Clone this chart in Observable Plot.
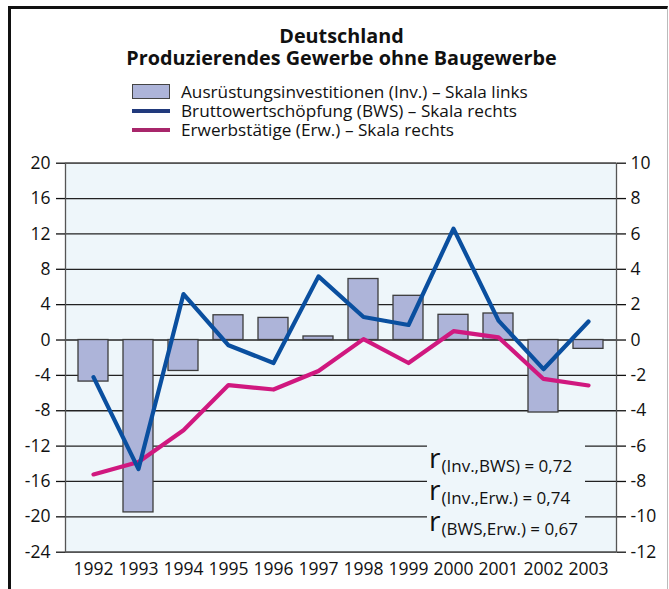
<!DOCTYPE html>
<html><head><meta charset="utf-8">
<script src="https://cdn.jsdelivr.net/npm/d3@7"></script>
<script src="https://cdn.jsdelivr.net/npm/@observablehq/plot@0.6"></script>
<style>
body{margin:0;background:#fff;font-family:"Open Sans",sans-serif;color:#111;}
#page{position:relative;width:669px;height:589px;overflow:hidden;}
#frame{position:absolute;left:8px;top:6px;width:656px;height:620px;border-top:3px solid #111;border-left:3px solid #111;border-right:1px solid #bbb;}
#title{position:absolute;left:0;width:683px;top:25px;text-align:center;font-weight:bold;font-size:19.8px;}
#title div{height:21.5px;line-height:21.5px;}
#legend{position:absolute;left:132px;top:82px;font-size:17.2px;}
.row{display:flex;align-items:center;height:19px;line-height:19px;}
.row span{line-height:19px;}
.sw{width:38px;margin-right:11px;box-sizing:border-box;}
#chart{position:absolute;left:0;top:140px;}
#corr{position:absolute;left:427px;top:443px;width:158px;height:99px;background:#eef6fa;}
.cl{position:absolute;left:2px;white-space:nowrap;}
.cl .r{font-size:28px;}
.cl .s{font-size:17px;position:relative;top:4px;margin-left:1px;}
</style></head>
<body>
<div id="page">
<div id="frame"></div>
<div id="title"><div>Deutschland</div><div>Produzierendes Gewerbe ohne Baugewerbe</div></div>
<div id="legend"></div>
<div id="chart"></div>
<div id="corr"></div>
</div>
<script>
const years = ["1992","1993","1994","1995","1996","1997","1998","1999","2000","2001","2002","2003"];
const inv = [-4.7,-19.5,-3.5,2.8,2.5,0.4,6.9,5.0,2.85,3.0,-8.2,-1.0];
const bws = [-2.1,-7.3,2.6,-0.3,-1.3,3.6,1.3,0.85,6.3,1.1,-1.65,1.05];
const erw = [-7.6,-6.9,-5.1,-2.55,-2.8,-1.75,0.05,-1.3,0.5,0.15,-2.2,-2.57];
const leftTicks = [-24,-20,-16,-12,-8,-4,0,4,8,12,16,20];
const legendItems = [
  {label:"Ausrüstungsinvestitionen (Inv.) – Skala links", kind:"bar", color:"#adb4d9"},
  {label:"Bruttowertschöpfung (BWS) – Skala rechts", kind:"line", color:"#213a7c"},
  {label:"Erwerbstätige (Erw.) – Skala rechts", kind:"line", color:"#a8266b"}
];
const corrLabels = [["(Inv.,BWS)","0,72"],["(Inv.,Erw.)","0,74"],["(BWS,Erw.)","0,67"]];

const data = years.map((y,i)=>({year:y, inv:inv[i], bws:bws[i], erw:erw[i]}));

const leg = document.getElementById("legend");
legendItems.forEach(it=>{
  const r = document.createElement("div"); r.className="row";
  const s = document.createElement("div"); s.className="sw";
  if(it.kind==="bar"){ s.style.height="15px"; s.style.background=it.color; s.style.border="1.5px solid #444"; }
  else { s.style.height="4px"; s.style.background=it.color; }
  r.appendChild(s);
  const t = document.createElement("span"); t.textContent=it.label; r.appendChild(t);
  leg.appendChild(r);
});

const corr = document.getElementById("corr");
corrLabels.forEach((c,i)=>{
  const d = document.createElement("div"); d.className="cl"; d.style.top=(i*31.5-5)+"px";
  d.innerHTML = `<span class="r">r</span><span class="s">${c[0]} = ${c[1]}</span>`;
  corr.appendChild(d);
});

const chart = Plot.plot({
  width: 669, height: 449,
  marginLeft: 65, marginRight: 53, marginTop: 22.7, marginBottom: 37.3,
  style: {fontFamily:"Open Sans, sans-serif", fontSize:"17.5px", color:"#111", background:"transparent"},
  x: {type:"band", domain: years, paddingInner: 0.34, paddingOuter: 0.17, label:null},
  y: {domain:[-24,20], label:null},
  marks: [
    Plot.frame({fill:"#eef6fa", stroke:null}),
    Plot.gridY(leftTicks, {stroke:"#222", strokeOpacity:1, strokeWidth:1.3}),
    Plot.barY(data, {x:"year", y:"inv", fill:"#adb4d9", stroke:"#3c3c3c", strokeWidth:1.3}),
    Plot.line(data, {x:"year", y:d=>d.erw*2, stroke:"#d0187f", strokeWidth:4.2}),
    Plot.line(data, {x:"year", y:d=>d.bws*2, stroke:"#0a4f9f", strokeWidth:4.2}),
    Plot.frame({stroke:"#555", strokeWidth:1.3}),
    Plot.axisY(leftTicks, {anchor:"left", tickSize:9, tickPadding:6, tickFormat:d=>String(d), label:null, strokeWidth:1.3}),
    Plot.axisY(leftTicks, {anchor:"right", tickSize:9, tickPadding:5, tickFormat:d=>String(d/2), label:null, strokeWidth:1.3}),
    Plot.axisX({tickSize:0, tickPadding:10, label:null})
  ]
});
document.getElementById("chart").appendChild(chart);
</script>
</body></html>
